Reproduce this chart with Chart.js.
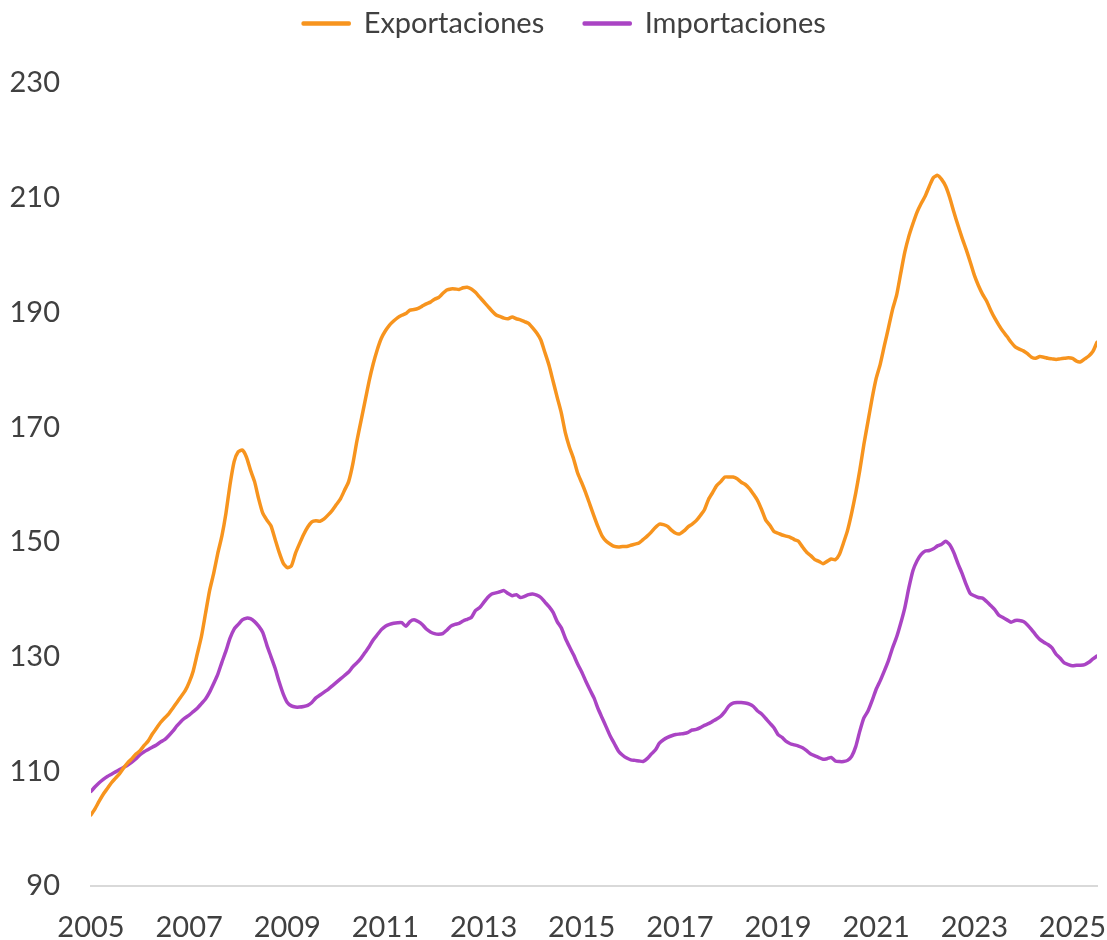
<!DOCTYPE html>
<html>
<head>
<meta charset="utf-8">
<script src="https://cdn.jsdelivr.net/npm/chart.js@4.4.1/dist/chart.umd.min.js"></script>
<style>
  html, body { margin: 0; padding: 0; background: #ffffff; }
  #wrap { width: 1107px; height: 940px; }
</style>
</head>
<body>
<div id="wrap"><canvas id="c" width="1107" height="940"></canvas></div>
<script>
// ---- Data (monthly, Jan 2005 .. Jul 2025) ----
const startYear = 2005;
const seriesNames = ["Exportaciones", "Importaciones"];
const exportaciones = [
  102.4,103.5,104.8,106.0,107.0,108.0,108.8,109.6,110.6,111.5,112.2,113.0,
  113.6,114.5,115.3,116.5,117.5,118.5,119.3,120.0,121.0,122.0,123.0,124.0,
  125.5,127.5,130.5,133.5,137.5,141.5,144.5,148.0,151.0,155.0,160.0,164.0,
  165.7,166.0,164.8,162.5,160.5,157.5,155.0,153.8,152.8,150.5,148.2,146.3,
  145.5,145.8,148.0,149.7,151.3,152.6,153.5,153.7,153.6,154.0,154.7,155.5,
  156.5,157.5,159.0,160.5,163.5,167.5,171.0,174.5,178.0,181.0,183.5,185.5,
  186.8,187.8,188.5,189.1,189.5,189.8,190.4,190.5,190.7,191.1,191.5,191.8,
  192.3,192.6,193.3,193.9,194.1,194.1,194.0,194.3,194.4,194.1,193.5,192.7,
  191.9,191.1,190.3,189.6,189.3,189.0,188.9,189.2,188.9,188.7,188.4,188.1,
  187.3,186.4,185.2,183.0,180.8,178.0,175.2,172.5,169.0,166.5,164.5,162.0,
  160.3,158.5,156.5,154.5,152.6,151.0,150.1,149.6,149.2,149.1,149.2,149.2,
  149.4,149.6,149.8,150.4,151.0,151.7,152.5,153.1,153.0,152.7,152.0,151.5,
  151.4,151.9,152.6,153.1,153.7,154.6,155.6,157.4,158.6,159.8,160.5,161.3,
  161.3,161.3,161.0,160.4,160.0,159.3,158.3,157.2,155.6,153.8,152.9,151.8,
  151.5,151.2,151.0,150.8,150.4,150.1,149.1,148.2,147.6,146.9,146.6,146.2,
  146.6,147.0,146.9,147.8,149.8,152.0,155.0,158.5,162.5,167.0,171.0,175.0,
  178.5,181.0,184.2,187.3,190.5,193.0,196.8,200.5,203.3,205.5,207.5,209.0,
  210.3,212.0,213.5,213.9,213.2,212.0,210.0,207.5,205.2,203.0,201.0,198.8,
  196.5,194.7,193.2,192.0,190.4,189.0,187.8,186.7,185.8,184.8,184.0,183.6,
  183.3,182.8,182.2,182.0,182.3,182.2,182.0,181.9,181.8,181.9,182.0,182.1,
  182.0,181.5,181.4,181.9,182.4,183.2,184.8
];
const importaciones = [
  106.5,107.3,108.0,108.6,109.1,109.5,109.9,110.3,110.7,111.1,111.6,112.2,
  112.9,113.4,113.8,114.2,114.6,115.1,115.5,116.2,117.0,117.9,118.7,119.3,
  119.8,120.4,121.0,121.8,122.6,123.8,125.3,126.9,129.0,131.0,133.2,134.8,
  135.6,136.4,136.7,136.6,136.1,135.3,134.2,132.0,130.0,128.0,125.6,123.5,
  122.0,121.4,121.2,121.2,121.3,121.5,122.0,122.8,123.3,123.8,124.3,124.9,
  125.5,126.1,126.7,127.3,128.2,128.9,129.7,130.7,131.7,132.9,133.8,134.7,
  135.3,135.6,135.8,135.9,135.9,135.3,136.1,136.4,136.1,135.6,134.8,134.3,
  134.0,133.9,134.0,134.6,135.3,135.6,135.8,136.2,136.5,136.8,138.0,138.5,
  139.4,140.3,140.9,141.1,141.3,141.5,141.0,140.6,140.8,140.3,140.5,140.8,
  140.9,140.7,140.3,139.5,138.7,137.7,136.1,135.0,133.2,131.7,130.3,128.7,
  127.3,125.7,124.2,122.8,120.9,119.3,117.7,116.1,114.8,113.5,112.8,112.3,
  112.0,111.9,111.8,111.7,112.2,113.0,113.7,114.9,115.5,115.9,116.2,116.4,
  116.5,116.6,116.8,117.2,117.3,117.6,118.0,118.3,118.7,119.1,119.6,120.4,
  121.4,121.9,122.0,122.0,121.9,121.7,121.3,120.5,120.0,119.2,118.4,117.6,
  116.4,115.9,115.2,114.8,114.6,114.4,114.1,113.6,113.0,112.7,112.4,112.1,
  112.2,112.4,111.8,111.7,111.7,111.9,112.6,114.3,117.0,119.3,120.5,122.3,
  124.3,125.8,127.5,129.3,131.5,133.4,135.8,138.5,142.0,145.0,146.7,147.8,
  148.4,148.5,148.8,149.3,149.6,150.1,149.5,148.1,146.2,144.5,142.6,141.0,
  140.6,140.3,140.2,139.6,138.9,138.2,137.2,136.8,136.4,136.0,136.3,136.3,
  136.1,135.5,134.7,133.8,133.0,132.5,132.1,131.5,130.4,129.7,128.9,128.6,
  128.4,128.5,128.5,128.6,129.0,129.6,130.1
];
const xTickYears = [2005, 2007, 2009, 2011, 2013, 2015, 2017, 2019, 2021, 2023, 2025];
const yTickValues = [90, 110, 130, 150, 170, 190, 210, 230];

// ---- Build points (x = fractional year) ----
const toPoints = arr => arr.map((v, i) => ({ x: startYear + i / 12, y: v }));

const FONT = { family: 'Lato', size: 29 };
const TEXT = '#404040';

const chart = new Chart(document.getElementById('c'), {
  type: 'line',
  data: {
    datasets: [
      { label: seriesNames[0], data: toPoints(exportaciones), borderColor: '#F7941E', backgroundColor: '#F7941E',
        borderWidth: 3.5, pointRadius: 0, tension: 0.2, borderCapStyle: 'round', borderJoinStyle: 'round' },
      { label: seriesNames[1], data: toPoints(importaciones), borderColor: '#AA44C4', backgroundColor: '#AA44C4',
        borderWidth: 3.5, pointRadius: 0, tension: 0.2, borderCapStyle: 'round', borderJoinStyle: 'round' }
    ]
  },
  options: {
    responsive: false,
    animation: false,
    layout: { padding: { top: -31, right: 10, bottom: 0, left: 0 } },
    plugins: {
      tooltip: { enabled: false },
      legend: {
        display: true,
        position: 'top',
        labels: { font: FONT, color: TEXT, boxWidth: 46, boxHeight: 1, padding: 40 }
      }
    },
    scales: {
      x: {
        type: 'linear',
        min: startYear,
        max: startYear + (exportaciones.length - 1) / 12,
        afterBuildTicks: s => { s.ticks = xTickYears.map(v => ({ value: v })); },
        afterFit: s => { s.height = 54; s.paddingLeft = 0; s.paddingRight = 0; },
        grid: { display: false, drawTicks: false },
        border: { display: true, color: '#d9d9d9', width: 2 },
        ticks: { font: FONT, color: TEXT, padding: 24, maxRotation: 0, autoSkip: false, callback: v => String(v) }
      },
      y: {
        min: 90, max: 230,
        afterBuildTicks: s => { s.ticks = yTickValues.map(v => ({ value: v })); },
        afterFit: s => { s.width = 91; },
        grid: { display: false, drawTicks: false },
        border: { display: false },
        ticks: { font: FONT, color: TEXT, padding: 31, callback: v => String(v) }
      }
    }
  }
});

// Legend: keep item spacing but push plot area down to match the reference
const origFit = chart.legend.fit;
chart.legend.fit = function () {
  origFit.call(this);
  this.height = 114;
  if (this.lineWidths && this.lineWidths.length) this.lineWidths[0] -= 32;
};
chart.update();
</script>
</body>
</html>
